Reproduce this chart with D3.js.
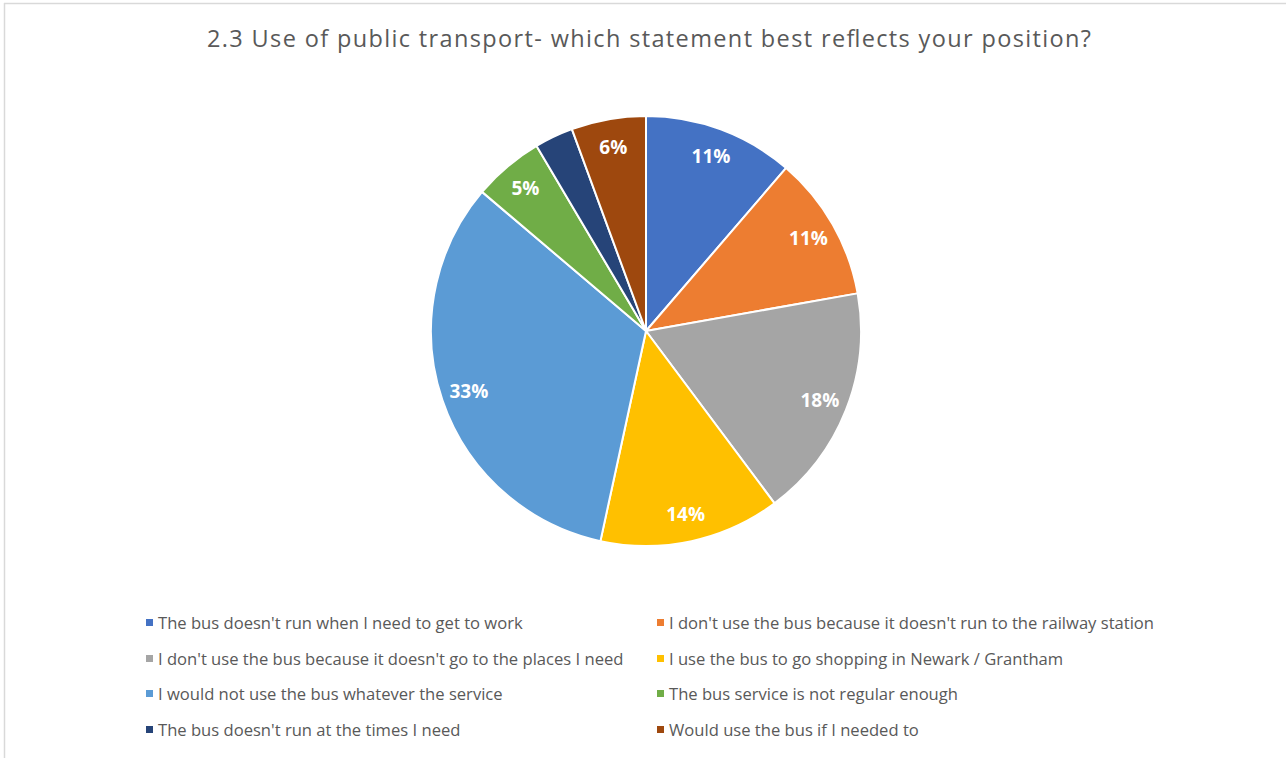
<!DOCTYPE html>
<html>
<head>
<meta charset="utf-8">
<script src="https://cdn.jsdelivr.net/npm/d3@7"></script>
<style>
  html, body { margin: 0; padding: 0; background: #ffffff; }
  svg { display: block; }
</style>
</head>
<body>
<svg id="chart" width="1286" height="758"></svg>
<script>
// Survey responses, share of respondents (%)
const categories = [
  "The bus doesn't run when I need to get to work",
  "I don't use the bus because it doesn't run to the railway station",
  "I don't use the bus because it doesn't go to the places I need",
  "I use the bus to go shopping in Newark / Grantham",
  "I would not use the bus whatever the service",
  "The bus service is not regular enough",
  "The bus doesn't run at the times I need",
  "Would use the bus if I needed to"
];
const values = [11.3, 10.9, 17.6, 13.6, 32.8, 5.3, 2.9, 5.6];
const showLabel = [true, true, true, true, true, true, false, true];
const colors = ["#4472C4", "#ED7D31", "#A5A5A5", "#FFC000", "#5B9BD5", "#70AD47", "#264478", "#9E480E"];
const title = "2.3 Use of public transport- which statement best reflects your position?";

const svg = d3.select("#chart");
const W = 1286, H = 758;

// chart frame
svg.append("line").attr("x1", 4).attr("x2", W).attr("y1", 3.5).attr("y2", 3.5)
  .attr("stroke", "#d9d9d9").attr("stroke-width", 1.5);
svg.append("line").attr("x1", 4.5).attr("x2", 4.5).attr("y1", 3).attr("y2", H)
  .attr("stroke", "#d9d9d9").attr("stroke-width", 1.5);

// title
svg.append("text")
  .attr("x", 649).attr("y", 47)
  .attr("text-anchor", "middle")
  .attr("font-family", "'Open Sans', sans-serif")
  .attr("font-size", 23.5)
  .attr("textLength", 884)
  .attr("lengthAdjust", "spacing")
  .attr("fill", "#595959")
  .text(title);

// pie
const cx = 646, cy = 331, r = 215;
const data = categories.map((c, i) => ({ name: c, value: values[i], color: colors[i], label: showLabel[i] }));
const total = d3.sum(values);
const pie = d3.pie().value(d => d.value).sort(null);
const arc = d3.arc().innerRadius(0).outerRadius(r);
const labelArc = d3.arc().innerRadius(r * 0.87).outerRadius(r * 0.87);
const pct = d3.format(".0%");

const g = svg.append("g").attr("transform", `translate(${cx},${cy})`);
const arcs = pie(data);

g.selectAll("path.slice")
  .data(arcs)
  .join("path")
  .attr("class", "slice")
  .attr("d", arc)
  .attr("fill", d => d.data.color)
  .attr("stroke", "#ffffff")
  .attr("stroke-width", 2)
  .attr("stroke-linejoin", "round");

g.selectAll("text.lbl")
  .data(arcs.filter(d => d.data.label))
  .join("text")
  .attr("class", "lbl")
  .attr("transform", d => `translate(${labelArc.centroid(d)})`)
  .attr("text-anchor", "middle")
  .attr("dominant-baseline", "central")
  .attr("font-family", "'Open Sans', sans-serif")
  .attr("font-weight", "bold")
  .attr("font-size", 19)
  .attr("fill", "#ffffff")
  .text(d => pct(d.data.value / total));

// legend: two columns, four rows
const colX = [146, 657];
const rowY = [622, 658, 693, 729];
const legend = svg.append("g");
const items = legend.selectAll("g.item")
  .data(data)
  .join("g")
  .attr("class", "item")
  .attr("transform", (d, i) => `translate(${colX[i % 2]},${rowY[Math.floor(i / 2)]})`);
items.append("rect")
  .attr("x", 0).attr("y", -3).attr("width", 7).attr("height", 7)
  .attr("fill", d => d.color);
items.append("text")
  .attr("x", 12).attr("y", 0)
  .attr("dominant-baseline", "central")
  .attr("font-family", "'Open Sans', sans-serif")
  .attr("font-size", 16.6)
  .attr("fill", "#595959")
  .text(d => d.name);
</script>
</body>
</html>
